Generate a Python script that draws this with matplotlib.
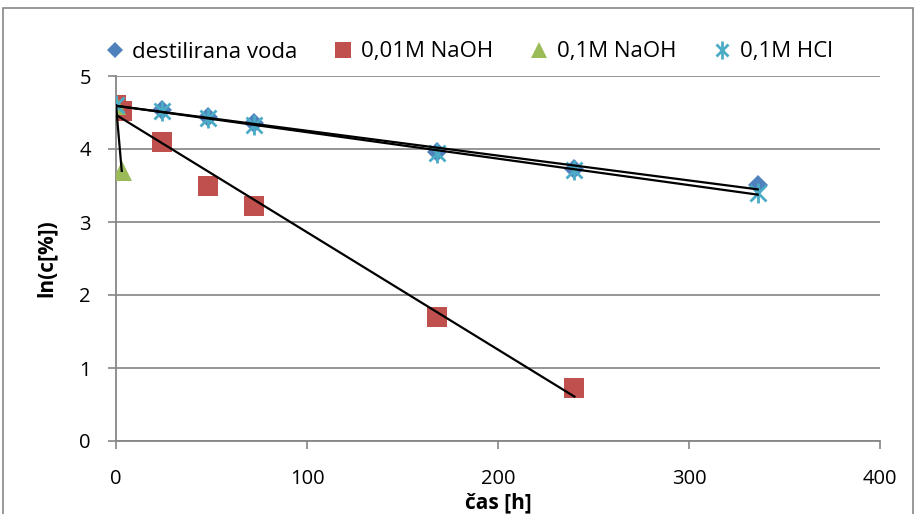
import numpy as np
import matplotlib
matplotlib.use("Agg")
import matplotlib.pyplot as plt
from matplotlib.lines import Line2D
from matplotlib.patches import Rectangle

plt.rcParams['font.family'] = ['Open Sans', 'DejaVu Sans']

# time [h] and ln(c[%]) per medium
t_voda = [0, 24, 48, 72, 168, 240, 336]
ln_voda = [4.60, 4.53, 4.44, 4.35, 3.96, 3.72, 3.51]

t_naoh001 = [0, 3, 24, 48, 72, 168, 240]
ln_naoh001 = [4.60, 4.52, 4.10, 3.49, 3.22, 1.70, 0.72]

t_naoh01 = [0, 3]
ln_naoh01 = [4.60, 3.70]

t_hcl = [0, 24, 48, 72, 168, 240, 336]
ln_hcl = [4.60, 4.52, 4.42, 4.33, 3.95, 3.71, 3.40]

labels = ["destilirana voda", "0,01M NaOH", "0,1M NaOH", "0,1M HCl"]
colors = ["#4F81BD", "#C0504D", "#9BBB59", "#4BACC6"]

x_ticks = [0, 100, 200, 300, 400]
y_ticks = [0, 1, 2, 3, 4, 5]

series = [(t_voda, ln_voda), (t_naoh001, ln_naoh001),
          (t_naoh01, ln_naoh01), (t_hcl, ln_hcl)]

fig = plt.figure(figsize=(9.18, 5.14), dpi=100)
ax = fig.add_axes([116 / 918, 1 - 441 / 514, (880 - 116) / 918, (441 - 76) / 514])


def marker_styles(i, scale=1.0):
    """Marker layers for series i (the star is an X with a vertical bar)."""
    c = colors[i]
    if i == 0:
        return [dict(marker="D", markersize=10 * scale, color=c, markeredgewidth=0)]
    if i == 1:
        return [dict(marker="s", markersize=14 * scale, color=c, markeredgewidth=0)]
    if i == 2:
        return [dict(marker="^", markersize=14 * scale, color=c, markeredgewidth=0)]
    return [dict(marker="x", markersize=11 * scale, color=c, markeredgewidth=2.0),
            dict(marker="|", markersize=15 * scale, color=c, markeredgewidth=2.0)]


for i, (t, v) in enumerate(series):
    for st in marker_styles(i):
        ax.plot(t, v, linestyle="none", zorder=3, **st)

# linear trend lines
for t, v in series:
    k, n = np.polyfit(t, v, 1)
    tt = np.array([min(t), max(t)])
    ax.plot(tt, k * tt + n, color="black", linewidth=1.6, zorder=4)

ax.set_xlim(0, 400)
ax.set_ylim(0, 5)
ax.set_xticks(x_ticks)
ax.set_yticks(y_ticks)
ax.tick_params(labelsize=14.5, color="#868686", length=6, width=1.2)
ax.tick_params(axis="x", pad=14)
ax.tick_params(axis="y", pad=12)
ax.yaxis.grid(True, color="#8C8C8C", linewidth=1.3)
ax.set_axisbelow(True)
for side in ["top", "right"]:
    ax.spines[side].set_visible(False)
for side in ["left", "bottom"]:
    ax.spines[side].set_color("#868686")
    ax.spines[side].set_linewidth(1.3)

ax.set_xlabel("čas [h]", fontsize=15, fontweight="bold")
ax.xaxis.set_label_coords(0.5, (441 - 492) / 365)
ax.set_ylabel("ln(c[%])", fontsize=15, fontweight="bold", labelpad=16)

handles = []
for i in range(4):
    layers = [Line2D([], [], linestyle="none", **st) for st in marker_styles(i, 0.85)]
    handles.append(tuple(layers) if len(layers) > 1 else layers[0])
fig.legend(handles, labels, loc="center", bbox_to_anchor=(468 / 918, 1 - 52 / 514),
           ncol=4, frameon=False, fontsize=16, handletextpad=0.3,
           columnspacing=1.55, handlelength=1.0)

fig.patches.append(Rectangle((3 / 918, -0.01), 910 / 918, 1 - 3 / 514,
                             transform=fig.transFigure, fill=False,
                             edgecolor="#868686", linewidth=1.2))

fig.savefig("out.png", dpi=100)
